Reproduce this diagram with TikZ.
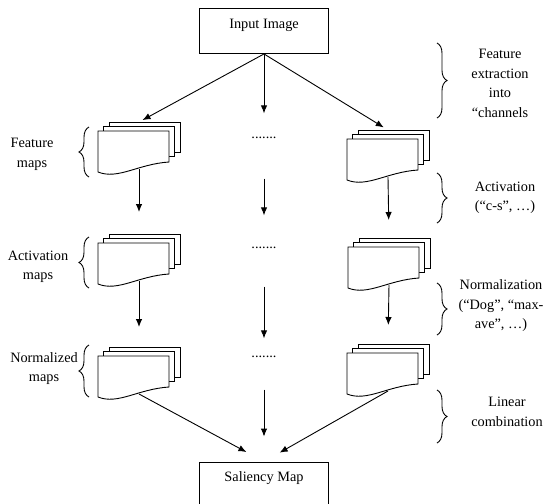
\documentclass[tikz,border=0pt]{standalone}
\usepackage{fontspec}
\setmainfont{Liberation Serif}
\usetikzlibrary{decorations.pathreplacing,arrows.meta}

\tikzset{
  mapstack/.pic={
    \draw[fill=white] (11,-9) rectangle (82,21);
    \draw[fill=white] (5.5,-4.5) rectangle (76.5,25.5);
    \draw[fill=white] (0,0) -- (71,0) -- (71,31)
      .. controls (40,33) and (20,49) .. (0,41) -- cycle;
    \coordinate (-in) at (41,-9);
    \coordinate (-out) at (41,38);
  },
  box/.style={draw, minimum width=129pt, inner sep=0pt},
  lbl/.style={align=center},
  arr/.style={-{Latex[length=8pt,width=6.5pt]}},
  brc/.style={decorate, decoration={brace, amplitude=10pt}},
}

\begin{document}
\begin{tikzpicture}[x=1pt,y=-1pt,line width=0.9pt,
    font=\fontsize{14.3}{19.5}\selectfont]
  \useasboundingbox (0,0) rectangle (547,504);
  \clip (0,0) rectangle (547,504);

  \node[box,anchor=base,text height=20pt,text depth=25pt] (input) at (264,28.5) {Input Image};
  \node[box,anchor=base,text height=19.5pt,text depth=40pt] (saliency) at (264,481.5) {Saliency Map};

  % stacks of maps
  \pic (featL) at (98,131) {mapstack};
  \pic (featR) at (347,139) {mapstack};
  \pic (actL) at (98,243) {mapstack};
  \pic (actR) at (348,247) {mapstack};
  \pic (normL) at (98,356) {mapstack};
  \pic (normR) at (347,353) {mapstack};

  \node (dots1) at (264,138) {.......};
  \node (dots2) at (264,248) {.......};
  \node (dots3) at (264,357) {.......};

  % arrows
  \draw[arr,shorten >=4pt] (input.south) -- (featL-in);
  \draw[arr,shorten >=5pt] (input.south) -- (featR-in);
  \draw[arr,shorten >=20pt] (input.south) -- (dots1);
  \draw[arr,shorten <=36pt,shorten >=28pt] (dots1) -- (dots2);
  \draw[arr,shorten <=34pt,shorten >=14pt] (dots2) -- (dots3);
  \draw[arr,shorten <=28pt,shorten >=25pt] (dots3) -- (saliency.north);
  \draw[arr,shorten >=22pt] (featL-out) -- (actL-in);
  \draw[arr,shorten >=18pt] (featR-out) -- (actR-in);
  \draw[arr,shorten >=20pt] (actL-out) -- (normL-in);
  \draw[arr,shorten >=19pt] (actR-out) -- (normR-in);
  \draw[arr,shorten >=20pt] (normL-out) -- (saliency.north);
  \draw[arr,shorten >=18pt] (normR-out) -- (saliency.north);

  % braces
  \draw[brc] (89,177) -- (89,127);
  \draw[brc] (89,288) -- (89,237);
  \draw[brc] (89,397) -- (89,345);
  \draw[brc] (437,43) -- (437,118);
  \draw[brc] (437,173) -- (437,223);
  \draw[brc] (437,283) -- (437,335);
  \draw[brc] (437,390) -- (437,443);

  % labels
  \node[lbl] (featlbl) at (32,154.5) {Feature\\maps};
  \node[lbl] (actlbl) at (38,267) {Activation\\maps};
  \node[lbl] (normlbl) at (44,368.5) {Normalized\\maps};
  \node[lbl] (extrlbl) at (500,83.5) {Feature\\extraction\\into\\“channels};
  \node[lbl] (cslbl) at (505,198) {Activation\\(“c-s”, …)};
  \node[lbl] (doglbl) at (501,306) {Normalization\\(“Dog”, “max-\\ave”, …)};
  \node[lbl] (linlbl) at (507,412) {Linear\\combination};
\end{tikzpicture}
\end{document}
